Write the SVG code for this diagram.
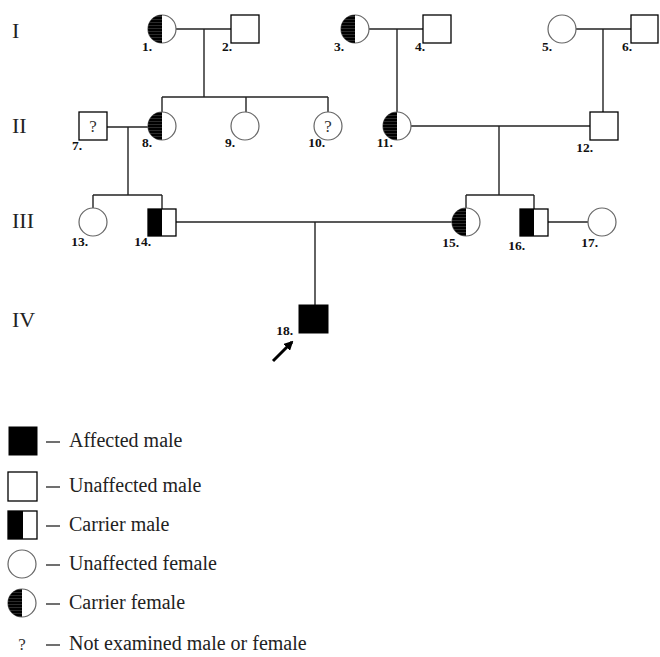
<svg xmlns="http://www.w3.org/2000/svg" width="660" height="657" viewBox="0 0 660 657">
<style>
.sq{fill:#fff;stroke:#000;stroke-width:1.3}
.ci{fill:#fff;stroke:#666;stroke-width:1.2}
.blk{fill:#000}
.hat{fill:url(#hatch)}
.ln{stroke:#222;stroke-width:1.4;fill:none}
.lbl{font-family:"Liberation Serif","Times New Roman",serif;font-weight:bold;font-size:13.5px;text-anchor:end;fill:#111}
.gen{font-family:"Liberation Serif","Times New Roman",serif;font-size:22px;fill:#222}
.leg{font-family:"Liberation Serif","Times New Roman",serif;font-size:20px;fill:#222}
.q{font-family:"Liberation Serif","Times New Roman",serif;font-size:17px;fill:#333;text-anchor:middle}
</style>
<defs>
<pattern id="hatch" width="4" height="3" patternUnits="userSpaceOnUse">
<rect width="4" height="3" fill="#000"/>
<rect y="1.2" width="4" height="0.5" fill="#555"/>
</pattern>
<marker id="ah" viewBox="0 0 10 10" refX="8" refY="5" markerWidth="3.2" markerHeight="3.2" orient="auto">
<path d="M0,0 L10,5 L0,10 Z" fill="#000"/>
</marker>
</defs>

<g id="generations">
<text class="gen" x="12" y="38">I</text>
<text class="gen" x="12" y="133">II</text>
<text class="gen" x="12" y="228">III</text>
<text class="gen" x="12" y="327">IV</text>
</g>

<g id="connectors">
<line class="ln" x1="176" y1="29" x2="231" y2="29"/>
<line class="ln" x1="204" y1="29" x2="204" y2="97"/>
<line class="ln" x1="162" y1="97" x2="328" y2="97"/>
<line class="ln" x1="162" y1="97" x2="162" y2="112"/>
<line class="ln" x1="246" y1="97" x2="246" y2="112"/>
<line class="ln" x1="328" y1="97" x2="328" y2="112"/>
<line class="ln" x1="369" y1="29" x2="423" y2="29"/>
<line class="ln" x1="397" y1="29" x2="397" y2="112"/>
<line class="ln" x1="576" y1="29" x2="631" y2="29"/>
<line class="ln" x1="603" y1="29" x2="603" y2="112"/>
<line class="ln" x1="107" y1="127" x2="148" y2="127"/>
<line class="ln" x1="128" y1="127" x2="128" y2="195"/>
<line class="ln" x1="93" y1="195" x2="162" y2="195"/>
<line class="ln" x1="93" y1="195" x2="93" y2="208"/>
<line class="ln" x1="162" y1="195" x2="162" y2="209"/>
<line class="ln" x1="411" y1="126" x2="590" y2="126"/>
<line class="ln" x1="499" y1="126" x2="499" y2="195"/>
<line class="ln" x1="466" y1="195" x2="534" y2="195"/>
<line class="ln" x1="466" y1="195" x2="466" y2="208"/>
<line class="ln" x1="534" y1="195" x2="534" y2="209"/>
<line class="ln" x1="176" y1="222" x2="452" y2="222"/>
<line class="ln" x1="315" y1="222" x2="315" y2="305"/>
<line class="ln" x1="548" y1="222" x2="588" y2="222"/>
<line x1="273" y1="361" x2="292" y2="342" stroke="#000" stroke-width="3" marker-end="url(#ah)"/>
</g>

<g id="n1"><circle class="ci" cx="162" cy="29" r="14"/><path class="hat" d="M162,15 A14,14 0 0 0 162,43 Z"/><text class="lbl" x="152" y="51">1.</text></g>
<g id="n2"><rect class="sq" x="231" y="15" width="28" height="28"/><text class="lbl" x="232" y="51">2.</text></g>
<g id="n3"><circle class="ci" cx="355" cy="29" r="14"/><path class="hat" d="M355,15 A14,14 0 0 0 355,43 Z"/><text class="lbl" x="344" y="51">3.</text></g>
<g id="n4"><rect class="sq" x="423" y="15" width="28" height="28"/><text class="lbl" x="425" y="51">4.</text></g>
<g id="n5"><circle class="ci" cx="562" cy="29" r="14"/><text class="lbl" x="552" y="51">5.</text></g>
<g id="n6"><rect class="sq" x="631" y="15" width="27" height="28"/><text class="lbl" x="632" y="51">6.</text></g>

<g id="n7"><rect class="sq" x="79" y="112" width="28" height="28"/><text class="q" x="93" y="132">?</text><text class="lbl" x="82" y="150">7.</text></g>
<g id="n8"><circle class="ci" cx="162" cy="126" r="14"/><path class="hat" d="M162,112 A14,14 0 0 0 162,140 Z"/><text class="lbl" x="152" y="147">8.</text></g>
<g id="n9"><circle class="ci" cx="245" cy="126" r="14"/><text class="lbl" x="235" y="147">9.</text></g>
<g id="n10"><circle class="ci" cx="328" cy="126" r="14"/><text class="q" x="328" y="132">?</text><text class="lbl" x="325" y="147">10.</text></g>
<g id="n11"><circle class="ci" cx="397" cy="126" r="14"/><path class="hat" d="M397,112 A14,14 0 0 0 397,140 Z"/><text class="lbl" x="393" y="147">11.</text></g>
<g id="n12"><rect class="sq" x="590" y="112" width="28" height="28"/><text class="lbl" x="593" y="152">12.</text></g>

<g id="n13"><circle class="ci" cx="93" cy="222" r="14"/><text class="lbl" x="88" y="246">13.</text></g>
<g id="n14"><rect class="sq" x="148" y="209" width="28" height="27"/><rect class="blk" x="148" y="209" width="14" height="27"/><text class="lbl" x="151" y="246">14.</text></g>
<g id="n15"><circle class="ci" cx="466" cy="222" r="14"/><path class="hat" d="M466,208 A14,14 0 0 0 466,236 Z"/><text class="lbl" x="459" y="247">15.</text></g>
<g id="n16"><rect class="sq" x="520" y="209" width="28" height="27"/><rect class="blk" x="520" y="209" width="14" height="27"/><text class="lbl" x="525" y="250">16.</text></g>
<g id="n17"><circle class="ci" cx="602" cy="222" r="14"/><text class="lbl" x="598" y="247">17.</text></g>

<g id="n18"><rect x="299" y="305" width="29" height="28" fill="#000" stroke="#000"/><text class="lbl" x="293" y="335">18.</text></g>

<g id="legend">
<rect x="9" y="427" width="28" height="28" fill="#000" stroke="#000"/>
<line x1="46" y1="442" x2="60" y2="442" stroke="#222" stroke-width="1.3"/>
<text class="leg" x="69" y="447">Affected male</text>
<rect class="sq" x="8" y="472" width="29" height="29"/>
<line x1="46" y1="487" x2="60" y2="487" stroke="#222" stroke-width="1.3"/>
<text class="leg" x="69" y="492">Unaffected male</text>
<rect class="sq" x="8" y="511" width="29" height="28"/>
<rect class="blk" x="8" y="511" width="15" height="28"/>
<line x1="46" y1="526" x2="60" y2="526" stroke="#222" stroke-width="1.3"/>
<text class="leg" x="69" y="531">Carrier male</text>
<circle class="ci" cx="22" cy="564" r="14"/>
<line x1="46" y1="565" x2="60" y2="565" stroke="#222" stroke-width="1.3"/>
<text class="leg" x="69" y="570">Unaffected female</text>
<circle class="ci" cx="22" cy="603" r="14"/>
<path class="hat" d="M22,589 A14,14 0 0 0 22,617 Z"/>
<line x1="46" y1="604" x2="60" y2="604" stroke="#222" stroke-width="1.3"/>
<text class="leg" x="69" y="609">Carrier female</text>
<text class="q" x="22" y="650">?</text>
<line x1="46" y1="645" x2="60" y2="645" stroke="#222" stroke-width="1.3"/>
<text class="leg" x="69" y="650">Not examined male or female</text>
</g>
</svg>
